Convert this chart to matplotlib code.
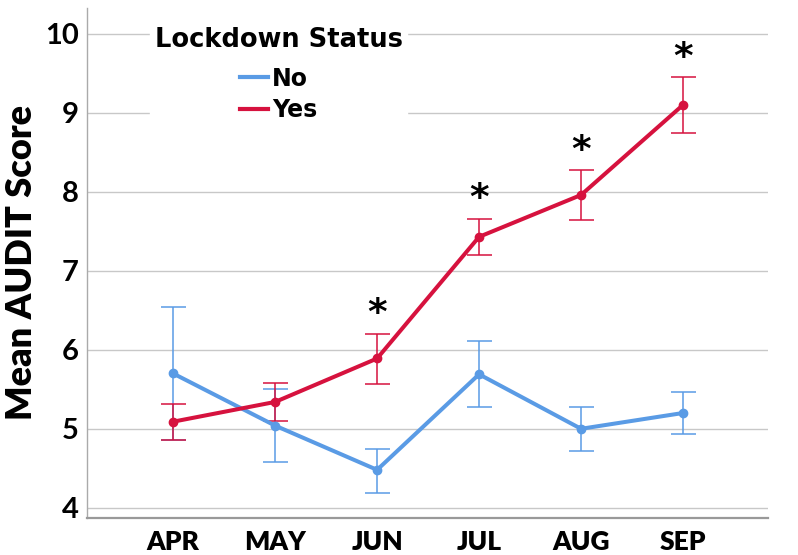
import numpy as np
import matplotlib
matplotlib.use("Agg")
import matplotlib.pyplot as plt
from matplotlib.lines import Line2D

# -----------------------------
# Datos
# -----------------------------
months = ["APR", "MAY", "JUN", "JUL", "AUG", "SEP"]

no_mean = [5.70, 5.04, 4.48, 5.69, 5.00, 5.20]
no_low = [4.86, 4.58, 4.19, 5.27, 4.72, 4.94]
no_high = [6.54, 5.51, 4.75, 6.11, 5.28, 5.46]

yes_mean = [5.09, 5.34, 5.89, 7.43, 7.96, 9.10]
yes_low = [4.86, 5.10, 5.57, 7.20, 7.64, 8.75]
yes_high = [5.31, 5.58, 6.20, 7.66, 8.27, 9.45]

signif = ["JUN", "JUL", "AUG", "SEP"]

blue = "#5a9be5"
red = "#d6123e"

fig = plt.figure(figsize=(7.98, 5.55), dpi=100)
ax = fig.add_axes([0.109, 0.067, 0.853, 0.919])

x = np.arange(len(months))


def draw_series(mean, low, high, color):
    mean = np.array(mean)
    err = [mean - np.array(low), np.array(high) - mean]
    ax.errorbar(x, mean, yerr=err, fmt="none", ecolor=color, elinewidth=1.1,
                capsize=9, capthick=1.1, zorder=3)
    ax.plot(x, mean, color=color, lw=2.9, marker="o", ms=6, zorder=4)


draw_series(no_mean, no_low, no_high, blue)
draw_series(yes_mean, yes_low, yes_high, red)

# asteriscos encima de las barras de error
for m in signif:
    i = months.index(m)
    ax.annotate("*", (i, yes_high[i]), xytext=(0, 7), textcoords="offset points",
                ha="center", va="baseline", fontsize=27, fontweight="bold",
                color="black", family="DejaVu Sans")

ax.set_xlim(-0.845, 5.83)
ax.set_ylim(3.873, 10.33)
ax.set_yticks([4, 5, 6, 7, 8, 9, 10])
ax.set_xticks(x)
ax.set_xticklabels(months, fontsize=19, fontweight="heavy", family="Lato")
ax.set_yticklabels([str(v) for v in range(4, 11)], fontsize=21,
                   fontweight="bold", family="Lato")
ax.tick_params(axis="both", length=0)
ax.tick_params(axis="y", pad=6)
ax.tick_params(axis="x", pad=9)

ax.yaxis.grid(True, color="#c8c8c8", lw=1)
ax.set_axisbelow(True)
for s in ["top", "right"]:
    ax.spines[s].set_visible(False)
ax.spines["left"].set_color("#aaaaaa")
ax.spines["left"].set_linewidth(1)
ax.spines["bottom"].set_color("#999999")
ax.spines["bottom"].set_linewidth(1.6)

ax.set_ylabel("Mean AUDIT Score", fontsize=26, fontweight="heavy",
              family="Lato", labelpad=5)

handles = [Line2D([], [], color=blue, lw=3), Line2D([], [], color=red, lw=3)]
leg = ax.legend(handles, ["No", "Yes"], title="Lockdown Status",
                loc="upper left", bbox_to_anchor=(0.075, 0.995), frameon=True,
                framealpha=1, edgecolor="white",
                prop={"family": "DejaVu Sans", "size": 17, "weight": "bold"},
                title_fontproperties={"family": "DejaVu Sans", "size": 18.5,
                                      "weight": "bold"},
                handlelength=1.2, handletextpad=0.15, labelspacing=0.3,
                borderpad=0.2)
leg._legend_box.sep = 10

fig.savefig("out.png", dpi=100)
